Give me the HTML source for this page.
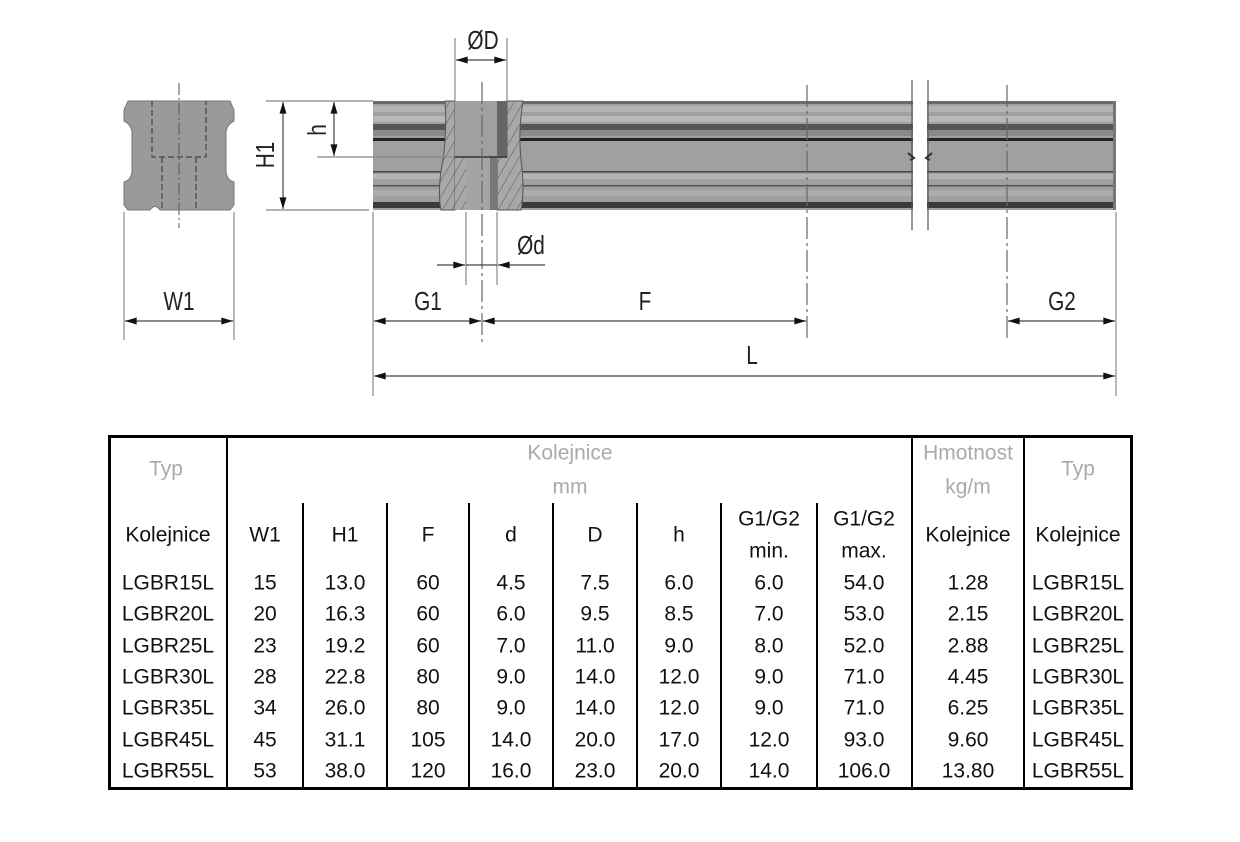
<!DOCTYPE html>
<html><head><meta charset="utf-8"><style>
html,body{margin:0;padding:0;background:#fff;width:1240px;height:842px;overflow:hidden}
svg{display:block}
.d{font-family:"Liberation Sans Narrow","Liberation Sans",sans-serif;font-size:26px;fill:#222}
.t{font-family:"Liberation Sans",sans-serif;font-size:21px;fill:#111;text-anchor:middle;dominant-baseline:central}
.g{fill:#aaa}
</style></head><body>
<svg width="1240" height="842" viewBox="0 0 1240 842" xmlns="http://www.w3.org/2000/svg">
<defs>
<marker id="a" viewBox="0 0 10 6" refX="10" refY="3" markerWidth="16" markerHeight="7" markerUnits="userSpaceOnUse" orient="auto-start-reverse"><path d="M0,0L10,3L0,6z" fill="#111"/></marker>
<pattern id="h" width="8" height="8" patternUnits="userSpaceOnUse" patternTransform="rotate(30)"><rect width="8" height="8" fill="#a8a8a8"/><line x1="0" y1="0" x2="0" y2="8" stroke="#555" stroke-width="1"/></pattern>
</defs>
<path d="M128,101 L230,101 L234,110 L234,121 Q226,125 226,133 L226,170 Q226,180 234,182 L234,205 L230,210 L160,210 Q155,203 150,210 L128,210 L124,205 L124,182 Q132,180 132,170 L132,133 Q132,125 124,121 L124,110 Z" fill="#9a9a9a" stroke="#777" stroke-width="1"/>
<g stroke="#444" stroke-width="1.2" stroke-dasharray="6,3" fill="none">
<path d="M152,101 L152,157 L206,157 L206,101"/>
<path d="M162,157 L162,210 M196,157 L196,210"/>
</g>
<line x1="179" y1="83" x2="179" y2="228" stroke="#555" stroke-width="1" stroke-dasharray="12,3,2,3"/>
<rect x="373" y="101" width="743" height="109" fill="#a0a0a0"/>
<rect x="373" y="101" width="743" height="3" fill="#6a6a6a"/>
<rect x="373" y="106" width="743" height="6" fill="#b4b4b4"/>
<rect x="373" y="116" width="743" height="6" fill="#b8b8b8"/>
<rect x="373" y="124" width="743" height="6" fill="#555"/>
<rect x="373" y="130" width="743" height="6" fill="#8a8a8a"/>
<rect x="373" y="138" width="743" height="3" fill="#222"/>
<rect x="373" y="171" width="743" height="1.5" fill="#444"/>
<rect x="373" y="174" width="743" height="5" fill="#b4b4b4"/>
<rect x="373" y="185" width="743" height="1.5" fill="#555"/>
<rect x="373" y="190" width="743" height="6" fill="#acacac"/>
<rect x="373" y="202" width="743" height="6" fill="#3a3a3a"/>
<rect x="1113" y="101" width="3" height="109" fill="#777"/>
<rect x="913" y="96" width="14" height="120" fill="#fff"/>
<line x1="912" y1="80" x2="912" y2="230" stroke="#555" stroke-width="1.2"/>
<line x1="928" y1="80" x2="928" y2="230" stroke="#555" stroke-width="1.2"/>
<path d="M908,153 L914,158 L910,160 M932,153 L926,158 L930,160" stroke="#333" stroke-width="2" fill="none"/>
<path d="M445,101 L455,101 L455,210 L441,210 Q437,190 443,160 Q447,130 445,101Z" fill="url(#h)" stroke="#555" stroke-width="1"/>
<path d="M507,101 L523,101 Q518,130 521,160 Q525,190 521,210 L497,210 L497,157 L507,157Z" fill="url(#h)" stroke="#555" stroke-width="1"/>
<path d="M455,157 L466,157 L466,210 L455,210Z" fill="url(#h)"/>
<rect x="455" y="101" width="52" height="56" fill="#a0a0a0"/>
<rect x="497" y="101" width="10" height="56" fill="#666"/>
<rect x="466" y="157" width="31" height="53" fill="#a4a4a4"/>
<rect x="490" y="157" width="7" height="53" fill="#777"/>
<line x1="455" y1="157" x2="507" y2="157" stroke="#333" stroke-width="1.5"/>
<g stroke="#666" stroke-width="1.2" stroke-dasharray="22,4,3,4">
<line x1="482" y1="82" x2="482" y2="342"/>
<line x1="807" y1="85" x2="807" y2="340"/>
<line x1="1007" y1="85" x2="1007" y2="340"/>
</g>
<g stroke="#888" stroke-width="1.2">
<line x1="124" y1="212" x2="124" y2="340"/>
<line x1="234" y1="212" x2="234" y2="340"/>
<line x1="266" y1="101" x2="373" y2="101"/>
<line x1="266" y1="210" x2="369" y2="210"/>
<line x1="317" y1="157" x2="455" y2="157"/>
<line x1="455" y1="38" x2="455" y2="101"/>
<line x1="507" y1="38" x2="507" y2="101"/>
<line x1="466" y1="212" x2="466" y2="285"/>
<line x1="497" y1="212" x2="497" y2="285"/>
<line x1="373" y1="212" x2="373" y2="396"/>
<line x1="1116" y1="212" x2="1116" y2="396"/>
</g>
<g stroke="#444" stroke-width="1.2">
<line x1="125" y1="321" x2="233" y2="321" marker-start="url(#a)" marker-end="url(#a)"/>
<line x1="283" y1="102" x2="283" y2="209" marker-start="url(#a)" marker-end="url(#a)"/>
<line x1="334" y1="102" x2="334" y2="156" marker-start="url(#a)" marker-end="url(#a)"/>
<line x1="456" y1="60" x2="506" y2="60" marker-start="url(#a)" marker-end="url(#a)"/>
<line x1="437" y1="265" x2="465" y2="265" marker-end="url(#a)"/>
<line x1="545" y1="265" x2="498" y2="265" marker-end="url(#a)"/>
<line x1="466" y1="265" x2="497" y2="265"/>
<line x1="374" y1="321" x2="481" y2="321" marker-start="url(#a)" marker-end="url(#a)"/>
<line x1="483" y1="321" x2="806" y2="321" marker-start="url(#a)" marker-end="url(#a)"/>
<line x1="1008" y1="321" x2="1115" y2="321" marker-start="url(#a)" marker-end="url(#a)"/>
<line x1="374" y1="376" x2="1115" y2="376" marker-start="url(#a)" marker-end="url(#a)"/>
</g>
<g class="d" text-anchor="middle">
<text transform="translate(179,310) scale(0.8,1)">W1</text>
<text transform="translate(428,310) scale(0.8,1)">G1</text>
<text transform="translate(645,310) scale(0.8,1)">F</text>
<text transform="translate(1062,310) scale(0.8,1)">G2</text>
<text transform="translate(752,364) scale(0.8,1)">L</text>
<text transform="translate(483,49) scale(0.8,1)">ØD</text>
<text transform="translate(531,254) scale(0.8,1)">Ød</text>
<text transform="translate(274,155) rotate(-90) scale(0.8,1)">H1</text>
<text transform="translate(326,130) rotate(-90) scale(0.8,1)">h</text>
</g>
<rect x="109.5" y="436.5" width="1022" height="352" fill="none" stroke="#000" stroke-width="3"/>
<g stroke="#000" stroke-width="2">
<line x1="227" y1="436" x2="227" y2="789"/>
<line x1="912" y1="436" x2="912" y2="789"/>
<line x1="1024" y1="436" x2="1024" y2="789"/>
<line x1="303" y1="503" x2="303" y2="789"/>
<line x1="387" y1="503" x2="387" y2="789"/>
<line x1="469" y1="503" x2="469" y2="789"/>
<line x1="553" y1="503" x2="553" y2="789"/>
<line x1="637" y1="503" x2="637" y2="789"/>
<line x1="721" y1="503" x2="721" y2="789"/>
<line x1="817" y1="503" x2="817" y2="789"/>
</g>
<g class="t">
<text class="t g" x="166" y="469">Typ</text>
<text class="t g" x="570" y="453">Kolejnice</text>
<text class="t g" x="570" y="487">mm</text>
<text class="t g" x="968" y="453">Hmotnost</text>
<text class="t g" x="968" y="487">kg/m</text>
<text class="t g" x="1078" y="469">Typ</text>
<text x="168" y="535">Kolejnice</text>
<text x="265" y="535">W1</text>
<text x="345" y="535">H1</text>
<text x="428" y="535">F</text>
<text x="511" y="535">d</text>
<text x="595" y="535">D</text>
<text x="679" y="535">h</text>
<text x="769" y="519">G1/G2</text>
<text x="769" y="551">min.</text>
<text x="864" y="519">G1/G2</text>
<text x="864" y="551">max.</text>
<text x="968" y="535">Kolejnice</text>
<text x="1078" y="535">Kolejnice</text>
</g>
<g class="t">
<g transform="translate(0,583)"><text x="168">LGBR15L</text><text x="265">15</text><text x="345">13.0</text><text x="428">60</text><text x="511">4.5</text><text x="595">7.5</text><text x="679">6.0</text><text x="769">6.0</text><text x="864">54.0</text><text x="968">1.28</text><text x="1078">LGBR15L</text></g>
<g transform="translate(0,614)"><text x="168">LGBR20L</text><text x="265">20</text><text x="345">16.3</text><text x="428">60</text><text x="511">6.0</text><text x="595">9.5</text><text x="679">8.5</text><text x="769">7.0</text><text x="864">53.0</text><text x="968">2.15</text><text x="1078">LGBR20L</text></g>
<g transform="translate(0,646)"><text x="168">LGBR25L</text><text x="265">23</text><text x="345">19.2</text><text x="428">60</text><text x="511">7.0</text><text x="595">11.0</text><text x="679">9.0</text><text x="769">8.0</text><text x="864">52.0</text><text x="968">2.88</text><text x="1078">LGBR25L</text></g>
<g transform="translate(0,677)"><text x="168">LGBR30L</text><text x="265">28</text><text x="345">22.8</text><text x="428">80</text><text x="511">9.0</text><text x="595">14.0</text><text x="679">12.0</text><text x="769">9.0</text><text x="864">71.0</text><text x="968">4.45</text><text x="1078">LGBR30L</text></g>
<g transform="translate(0,708)"><text x="168">LGBR35L</text><text x="265">34</text><text x="345">26.0</text><text x="428">80</text><text x="511">9.0</text><text x="595">14.0</text><text x="679">12.0</text><text x="769">9.0</text><text x="864">71.0</text><text x="968">6.25</text><text x="1078">LGBR35L</text></g>
<g transform="translate(0,740)"><text x="168">LGBR45L</text><text x="265">45</text><text x="345">31.1</text><text x="428">105</text><text x="511">14.0</text><text x="595">20.0</text><text x="679">17.0</text><text x="769">12.0</text><text x="864">93.0</text><text x="968">9.60</text><text x="1078">LGBR45L</text></g>
<g transform="translate(0,771)"><text x="168">LGBR55L</text><text x="265">53</text><text x="345">38.0</text><text x="428">120</text><text x="511">16.0</text><text x="595">23.0</text><text x="679">20.0</text><text x="769">14.0</text><text x="864">106.0</text><text x="968">13.80</text><text x="1078">LGBR55L</text></g>
</g>
</svg>
</body></html>
